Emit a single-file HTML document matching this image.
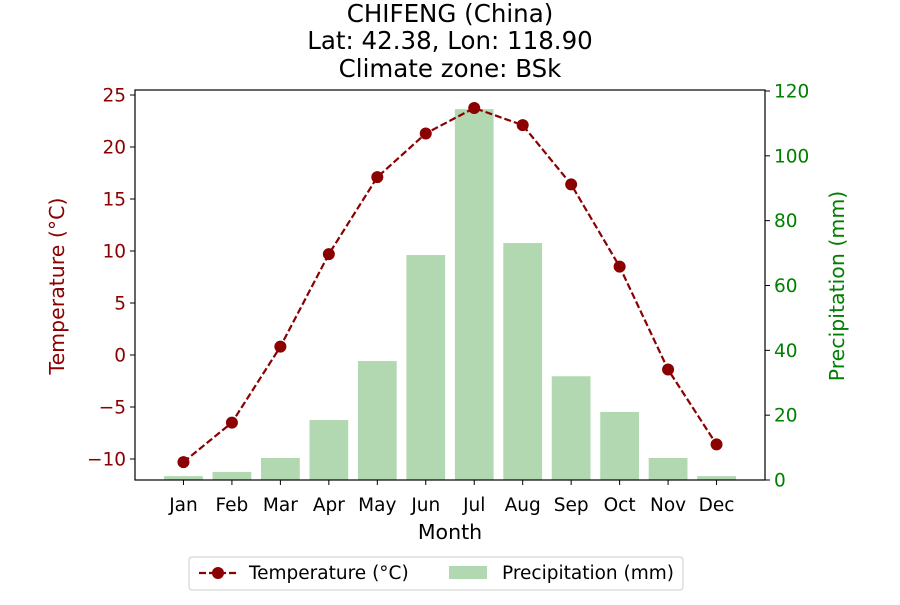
<!DOCTYPE html>
<html><head><meta charset="utf-8"><style>
body{margin:0;background:#fff;}
text{font-family:"DejaVu Sans","Liberation Sans",sans-serif;}
</style></head><body>
<svg id="chart" width="900" height="600" xmlns="http://www.w3.org/2000/svg">
<g id="title" font-size="24.5" text-anchor="middle" fill="#000">
<text x="450" y="22">CHIFENG (China)</text>
<text x="450" y="49">Lat: 42.38, Lon: 118.90</text>
<text x="450" y="77">Climate zone: BSk</text>
</g>
<g id="bars"></g>
<g id="line"></g>
<rect x="135" y="90" width="630" height="390" fill="none" stroke="#000" stroke-width="1.2"/>
<g id="axes"></g>
<text x="450" y="539" font-size="20.5" text-anchor="middle">Month</text>
<text transform="translate(64,286) rotate(-90)" font-size="20.5" text-anchor="middle" fill="#8b0000">Temperature (°C)</text>
<text transform="translate(844,286) rotate(-90)" font-size="20.5" text-anchor="middle" fill="#008000">Precipitation (mm)</text>
<g>
<rect x="189" y="557" width="494" height="33" rx="3" fill="#fff" stroke="#ccc"/>
<g>
<line x1="199" y1="573" x2="237" y2="573" stroke="#8b0000" stroke-width="2.2" stroke-dasharray="7,3"/>
<circle cx="218" cy="573" r="6" fill="#8b0000"/>
<text x="249" y="579" font-size="18.5">Temperature (°C)</text>
</g>
<g>
<rect x="449" y="566" width="38" height="13" fill="#b2d8b2"/>
<text x="502" y="579" font-size="18.5">Precipitation (mm)</text>
</g>
</g>
</svg>
<script>
const months=["Jan","Feb","Mar","Apr","May","Jun","Jul","Aug","Sep","Oct","Nov","Dec"];
const temps=[-10.3,-6.5,0.8,9.7,17.1,21.3,23.75,22.1,16.4,8.5,-1.4,-8.6];
const precip=[1.2,2.5,6.8,18.5,36.7,69.4,114.4,73.1,32,21,6.8,1.2];
const tempTicks=[-10,-5,0,5,10,15,20,25];
const precipTicks=[0,20,40,60,80,100,120];
const NS="http://www.w3.org/2000/svg";
const L=135,R=765,T=90,B=480;
const x=i=>L+(i+1)*(R-L)/13;
const yT=v=>B-(v+12.02)/(25.48+12.02)*(B-T);
const yP=v=>B-v/120*389;
function mk(tag,attrs,parent){const e=document.createElementNS(NS,tag);for(const k in attrs)e.setAttribute(k,attrs[k]);parent.appendChild(e);return e;}
const bars=document.getElementById('bars'),line=document.getElementById('line'),axes=document.getElementById('axes');
const bw=0.8*(R-L)/13;
precip.forEach((p,i)=>{
 const r=mk('rect',{x:x(i)-bw/2,y:yP(p),width:bw,height:B-yP(p),fill:'#b2d8b2'},bars);
 
 
});
const pl=mk('polyline',{points:temps.map((t,i)=>x(i)+','+yT(t)).join(' '),fill:'none',stroke:'#8b0000','stroke-width':2.2,'stroke-dasharray':'7,3'},line);


temps.forEach((t,i)=>{
 const c=mk('circle',{cx:x(i),cy:yT(t),r:6,fill:'#8b0000'},line);
 
 
});
months.forEach((m,i)=>{
 mk('line',{x1:x(i),x2:x(i),y1:B,y2:B+5,stroke:'#000'},axes);
 const t=mk('text',{x:x(i),y:B+31,'font-size':18.5,'text-anchor':'middle'},axes);t.textContent=m;
 
 
});
tempTicks.forEach(v=>{
 mk('line',{x1:L-5,x2:L,y1:yT(v),y2:yT(v),stroke:'#000'},axes);
 const t=mk('text',{x:L-9,y:yT(v)+6.5,'font-size':18.5,'text-anchor':'end',fill:'#8b0000'},axes);t.textContent=v<0?'\u2212'+(-v):v;
 
 
});
precipTicks.forEach(v=>{
 mk('line',{x1:R,x2:R+5,y1:yP(v),y2:yP(v),stroke:'#000'},axes);
 const t=mk('text',{x:R+9,y:yP(v)+6.5,'font-size':18.5,fill:'#008000'},axes);t.textContent=v;
 
 
});
</script>
</body></html>
